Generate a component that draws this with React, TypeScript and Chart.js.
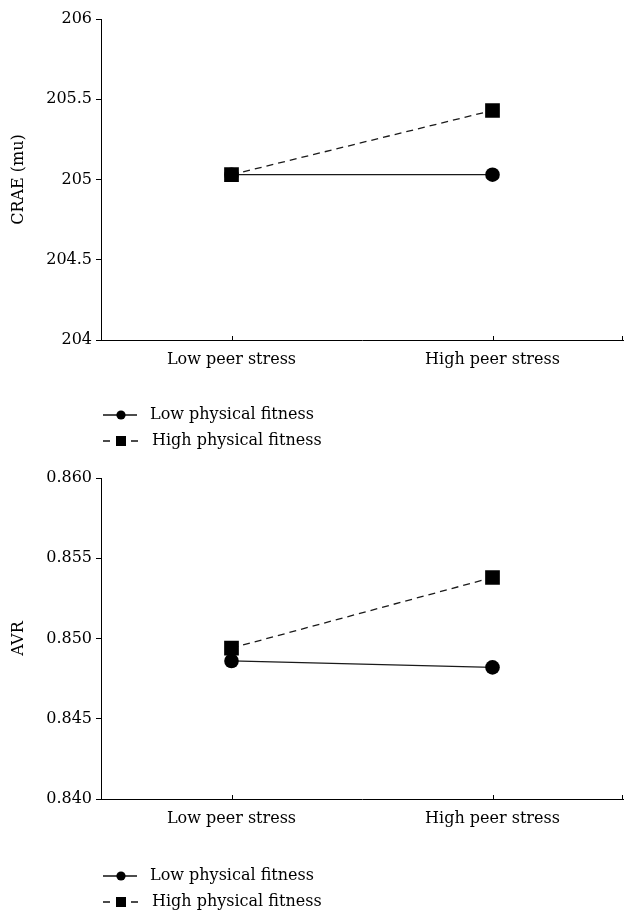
import React, { useEffect, useRef } from 'react';
import { Chart, registerables } from 'chart.js';

Chart.register(...registerables);

const categories = ['Low peer stress', 'High peer stress'];
const seriesNames = ['Low physical fitness', 'High physical fitness'];

const craeLowFitness = [205.03, 205.03];
const craeHighFitness = [205.03, 205.43];
const craeTickValues = [204, 204.5, 205, 205.5, 206];
const craeTickLabels = ['204', '204.5', '205', '205.5', '206'];

const avrLowFitness = [0.8486, 0.8482];
const avrHighFitness = [0.8494, 0.8538];
const avrTickValues = [0.84, 0.845, 0.85, 0.855, 0.86];
const avrTickLabels = ['0.840', '0.845', '0.850', '0.855', '0.860'];

const FONT_FAMILY = '"DejaVu Serif", "Liberation Serif", serif';
const FONT_SIZE = 16;
const W = 624;
const XH = 40;

type Props = {
  height: number;
  yTitle: string;
  low: number[];
  high: number[];
  tickValues: number[];
  tickLabels: string[];
  areaTop: number;
  areaBottom: number;
  legendY: number;
};

function InteractionChart(p: Props) {
  const ref = useRef<HTMLCanvasElement | null>(null);
  useEffect(() => {
    const canvas = ref.current;
    if (!canvas) return;
    const font = { family: FONT_FAMILY, size: FONT_SIZE };
    const overlay = {
      id: 'overlay',
      afterDraw(chart: any) {
        const ctx = chart.ctx as CanvasRenderingContext2D;
        const xs = chart.scales.x;
        const area = chart.chartArea;
        ctx.save();
        ctx.strokeStyle = '#000';
        ctx.lineWidth = 1;
        const tickXs = categories.map((_, i) => xs.getPixelForValue(i));
        tickXs.push(area.right - 1);
        for (const x of tickXs) {
          ctx.beginPath();
          ctx.moveTo(Math.round(x) + 0.5, area.bottom);
          ctx.lineTo(Math.round(x) + 0.5, area.bottom - 4);
          ctx.stroke();
        }
        // legend
        const y1 = p.legendY;
        const y2 = p.legendY + 26;
        ctx.strokeStyle = '#111';
        ctx.lineWidth = 1.3;
        ctx.beginPath();
        ctx.moveTo(103, y1);
        ctx.lineTo(137, y1);
        ctx.stroke();
        ctx.fillStyle = '#000';
        ctx.beginPath();
        ctx.arc(121, y1, 4.6, 0, Math.PI * 2);
        ctx.fill();
        ctx.beginPath();
        ctx.moveTo(103, y2);
        ctx.lineTo(110, y2);
        ctx.moveTo(131, y2);
        ctx.lineTo(138, y2);
        ctx.stroke();
        ctx.fillRect(116, y2 - 5, 10, 10);
        ctx.font = `${FONT_SIZE}px ${FONT_FAMILY}`;
        ctx.textBaseline = 'middle';
        ctx.textAlign = 'left';
        ctx.fillText(seriesNames[0], 150, y1);
        ctx.fillText(seriesNames[1], 152, y2);
        ctx.restore();
      },
    };
    const chart = new Chart(canvas, {
      type: 'line',
      data: {
        labels: categories,
        datasets: [
          {
            label: seriesNames[0],
            data: p.low,
            borderColor: '#1a1a1a',
            borderWidth: 1.3,
            backgroundColor: '#000',
            pointStyle: 'circle',
            pointRadius: 7.3,
            pointBackgroundColor: '#000',
            pointBorderColor: '#000',
            pointBorderWidth: 0,
            tension: 0,
          },
          {
            label: seriesNames[1],
            data: p.high,
            borderColor: '#1a1a1a',
            borderWidth: 1.3,
            borderDash: [7, 5],
            backgroundColor: '#000',
            pointStyle: 'rect',
            pointRadius: 10.4,
            pointBackgroundColor: '#000',
            pointBorderColor: '#000',
            pointBorderWidth: 0,
            tension: 0,
          },
        ],
      },
      options: {
        animation: false,
        responsive: false,
        maintainAspectRatio: false,
        layout: {
          autoPadding: false,
          padding: { top: p.areaTop, left: 0, right: 1, bottom: p.height - p.areaBottom - XH },
        },
        plugins: { legend: { display: false }, tooltip: { enabled: false } },
        scales: {
          x: {
            type: 'category',
            offset: true,
            grid: { display: true, drawOnChartArea: false, drawTicks: false },
            border: { display: true, color: '#000', width: 1 },
            ticks: { font, color: '#000', padding: 10, maxRotation: 0 },
            afterFit: (s: any) => {
              s.height = XH;
              s.paddingLeft = 0;
              s.paddingRight = 0;
            },
          },
          y: {
            type: 'linear',
            min: p.tickValues[0],
            max: p.tickValues[p.tickValues.length - 1],
            afterBuildTicks: (s: any) => {
              s.ticks = p.tickValues.map((v) => ({ value: v }));
            },
            grid: { display: true, drawOnChartArea: false, drawTicks: true, tickLength: 5, color: '#000', lineWidth: 1 },
            border: { display: true, color: '#000', width: 1 },
            ticks: {
              font,
              color: '#000',
              padding: 4,
              callback: (_v: any, i: number) => p.tickLabels[i],
            },
            title: {
              display: true,
              text: p.yTitle,
              font,
              color: '#000',
              padding: { top: 9, bottom: 0 },
            },
            afterFit: (s: any) => {
              s.width = 101;
            },
          },
        },
      },
      plugins: [overlay],
    } as any);
    return () => chart.destroy();
  }, []);
  return (
    <canvas
      ref={ref}
      width={W}
      height={p.height}
      style={{ display: 'block', width: W, height: p.height }}
    />
  );
}

export default function App() {
  return (
    <div style={{ position: 'absolute', left: 0, top: 0, width: W, height: 910, background: '#fff' }}>
      <InteractionChart
        height={455}
        yTitle="CRAE (mu)"
        low={craeLowFitness}
        high={craeHighFitness}
        tickValues={craeTickValues}
        tickLabels={craeTickLabels}
        areaTop={19}
        areaBottom={340}
        legendY={415}
      />
      <InteractionChart
        height={455}
        yTitle="AVR"
        low={avrLowFitness}
        high={avrHighFitness}
        tickValues={avrTickValues}
        tickLabels={avrTickLabels}
        areaTop={23}
        areaBottom={344}
        legendY={421}
      />
    </div>
  );
}
